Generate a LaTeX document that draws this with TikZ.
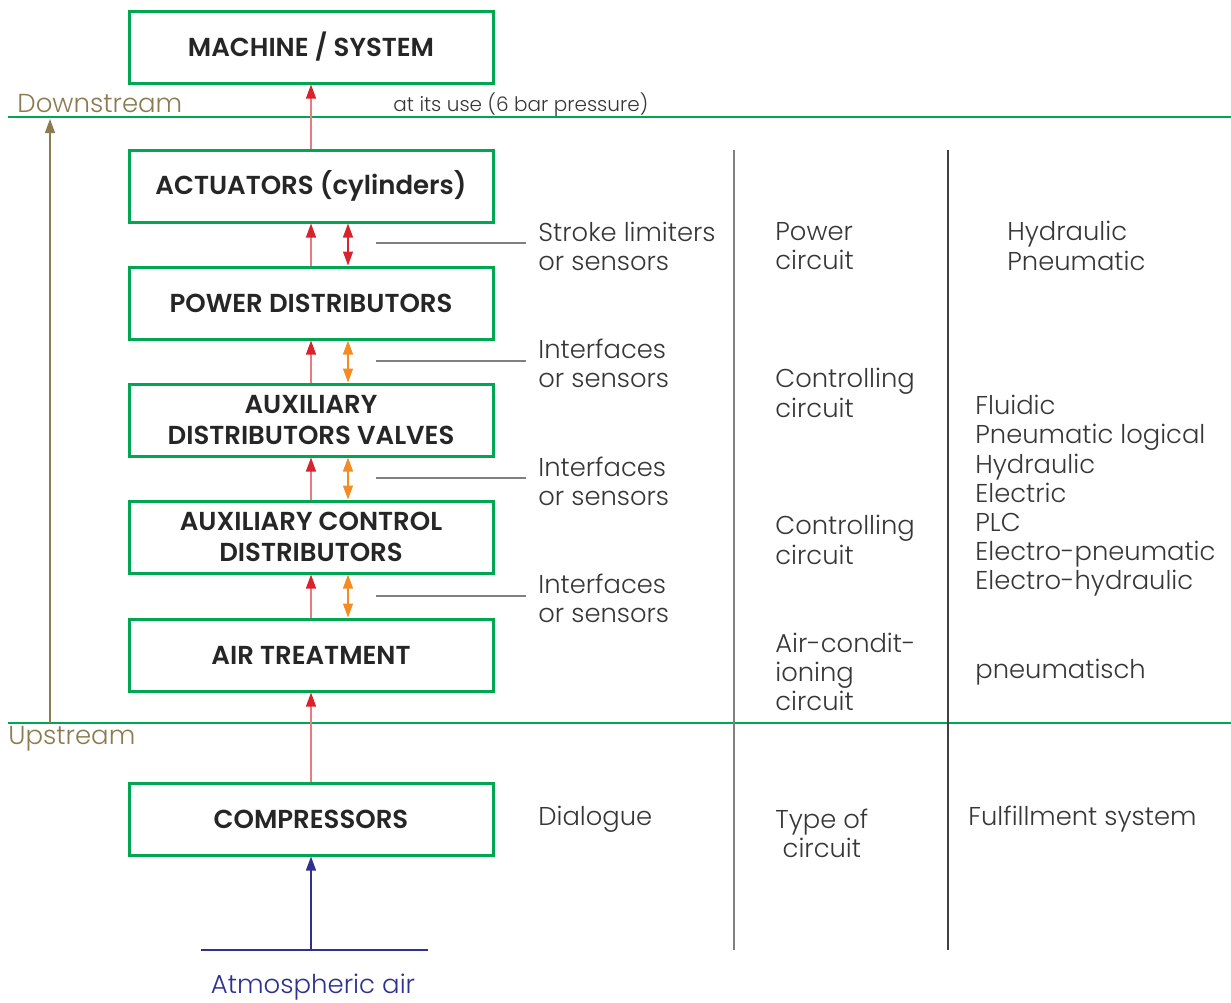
\documentclass[tikz,border=0pt]{standalone}
\usepackage{fontspec}
\setmainfont{Poppins}[UprightFont={* Light}, BoldFont={* SemiBold}]
\usetikzlibrary{positioning,arrows.meta}
\definecolor{boxgreen}{RGB}{0,166,81}
\definecolor{arrred}{RGB}{215,35,45}
\definecolor{arrorange}{RGB}{245,140,35}
\definecolor{airblue}{RGB}{46,49,146}
\definecolor{streambrown}{RGB}{140,123,80}
\definecolor{txtgray}{RGB}{55,55,55}

\tikzset{
    stage/.style={draw=boxgreen, line width=1.5pt, minimum width=182pt, minimum height=36pt,
        inner sep=0pt, align=center, text=black!85, font=\fontsize{13}{15.5}\selectfont\bfseries},
    note/.style={anchor=west, inner sep=0pt, align=left, text=txtgray,
        font=\fontsize{12.9}{14.6}\selectfont},
    flow/.style={draw=arrred!60, line width=0.6pt, -{Triangle[length=7pt,width=5pt,color=arrred]}},
    ctrl/.style={line width=0.6pt, {Triangle[length=7pt,width=5pt]}-{Triangle[length=7pt,width=5pt]}},
    lead/.style={draw=gray, line width=0.6pt},
    border/.style={draw=boxgreen, line width=0.8pt}
}

\begin{document}
\begin{tikzpicture}[x=0.5pt,y=-0.5pt]
    \useasboundingbox (0,0) rectangle (1231,1002);

    % stages
    \node[stage] (machine) at (311,47) {MACHINE / SYSTEM};
    \node[stage] (act) at (311,186) {ACTUATORS (cylinders)};
    \node[stage] (power) at (311,303) {POWER DISTRIBUTORS};
    \node[stage] (auxval) at (311,420) {AUXILIARY\\DISTRIBUTORS VALVES};
    \node[stage] (auxctrl) at (311,537) {AUXILIARY CONTROL\\DISTRIBUTORS};
    \node[stage] (treat) at (311,655) {AIR TREATMENT};
    \node[stage] (comp) at (311,819) {COMPRESSORS};

    % downstream / upstream
    \draw[border] (8,117) -- (1231,117);
    \draw[border] (8,723) -- (1231,723);
    \node[anchor=west, inner sep=0pt, text=streambrown, font=\fontsize{13}{15}\selectfont] (down) at (17,104) {Downstream};
    \node[anchor=west, inner sep=0pt, text=streambrown, font=\fontsize{13}{15}\selectfont] (up) at (8,739) {Upstream};
    \node[anchor=west, inner sep=0pt, text=txtgray, font=\fontsize{10}{12}\selectfont] (use) at (393,105) {at its use (6 bar pressure)};
    \coordinate (upbase) at (50,723);
    \coordinate (downtip) at (50,119);
    \draw[draw=streambrown, line width=0.6pt, -{Triangle[length=7pt,width=5pt]}] (upbase) -- (downtip);

    % air flow
    \draw[flow] (act.north) -- (machine.south);
    \draw[flow] (power.north) -- (act.south);
    \draw[flow] (auxval.north) -- (power.south);
    \draw[flow] (auxctrl.north) -- (auxval.south);
    \draw[flow] (treat.north) -- (auxctrl.south);
    \draw[flow] (comp.north) -- (treat.south);

    % dialogue between stages
    \draw[ctrl, arrred] ([xshift=18.5pt]power.north) -- ([xshift=18.5pt]act.south);
    \draw[ctrl, arrorange] ([xshift=18.5pt]auxval.north) -- ([xshift=18.5pt]power.south);
    \draw[ctrl, arrorange] ([xshift=18.5pt]auxctrl.north) -- ([xshift=18.5pt]auxval.south);
    \draw[ctrl, arrorange] ([xshift=18.5pt]treat.north) -- ([xshift=18.5pt]auxctrl.south);

    % atmospheric air
    \coordinate (airl) at (201,950);
    \coordinate (airr) at (428,950);
    \coordinate (air) at (311,950);
    \draw[airblue, line width=0.7pt] (airl) -- (airr);
    \draw[draw=airblue, line width=0.6pt, -{Triangle[length=7pt,width=5pt]}] (air) -- (comp.south);
    \node[inner sep=0pt, text=airblue, font=\fontsize{13}{15}\selectfont] (atm) at (313,987) {Atmospheric air};

    % interfaces
    \node[note] (lim) at (538,246) {Stroke limiters\\or sensors};
    \node[note] (if1) at (538,363) {Interfaces\\or sensors};
    \node[note] (if2) at (538,481) {Interfaces\\or sensors};
    \node[note] (if3) at (538,598) {Interfaces\\or sensors};
    \node[note] (dial) at (538,819) {Dialogue};
    \coordinate (g1) at (376,243);
    \coordinate (g2) at (376,361);
    \coordinate (g3) at (376,478);
    \coordinate (g4) at (376,596);
    \draw[lead] (g1) -- ([xshift=-6pt]g1 -| lim.west);
    \draw[lead] (g2) -- ([xshift=-6pt]g2 -| if1.west);
    \draw[lead] (g3) -- ([xshift=-6pt]g3 -| if2.west);
    \draw[lead] (g4) -- ([xshift=-6pt]g4 -| if3.west);

    % columns
    \draw[gray, line width=0.8pt] (734,150) -- (734,950);
    \draw[black!75, line width=0.8pt] (948,150) -- (948,950);

    % type of circuit
    \node[note] (pc) at (775,246) {Power\\circuit};
    \node[note] (cc1) at (775,393) {Controlling\\circuit};
    \node[note] (cc2) at (775,540) {Controlling\\circuit};
    \node[note] (ac) at (775,672) {Air-condit-\\ioning\\circuit};
    \node[note, align=center] (toc) at (775,833) {Type of\\circuit};

    % fulfillment system
    \node[note] (hp) at (1007,246) {Hydraulic\\Pneumatic};
    \node[note] (list) at (975,496) {Fluidic\\Pneumatic logical\\Hydraulic\\Electric\\PLC\\Electro-pneumatic\\Electro-hydraulic};
    \node[note] (pn) at (975,672) {pneumatisch};
    \node[note] (fs) at (968,819) {Fulfillment system};
\end{tikzpicture}
\end{document}
